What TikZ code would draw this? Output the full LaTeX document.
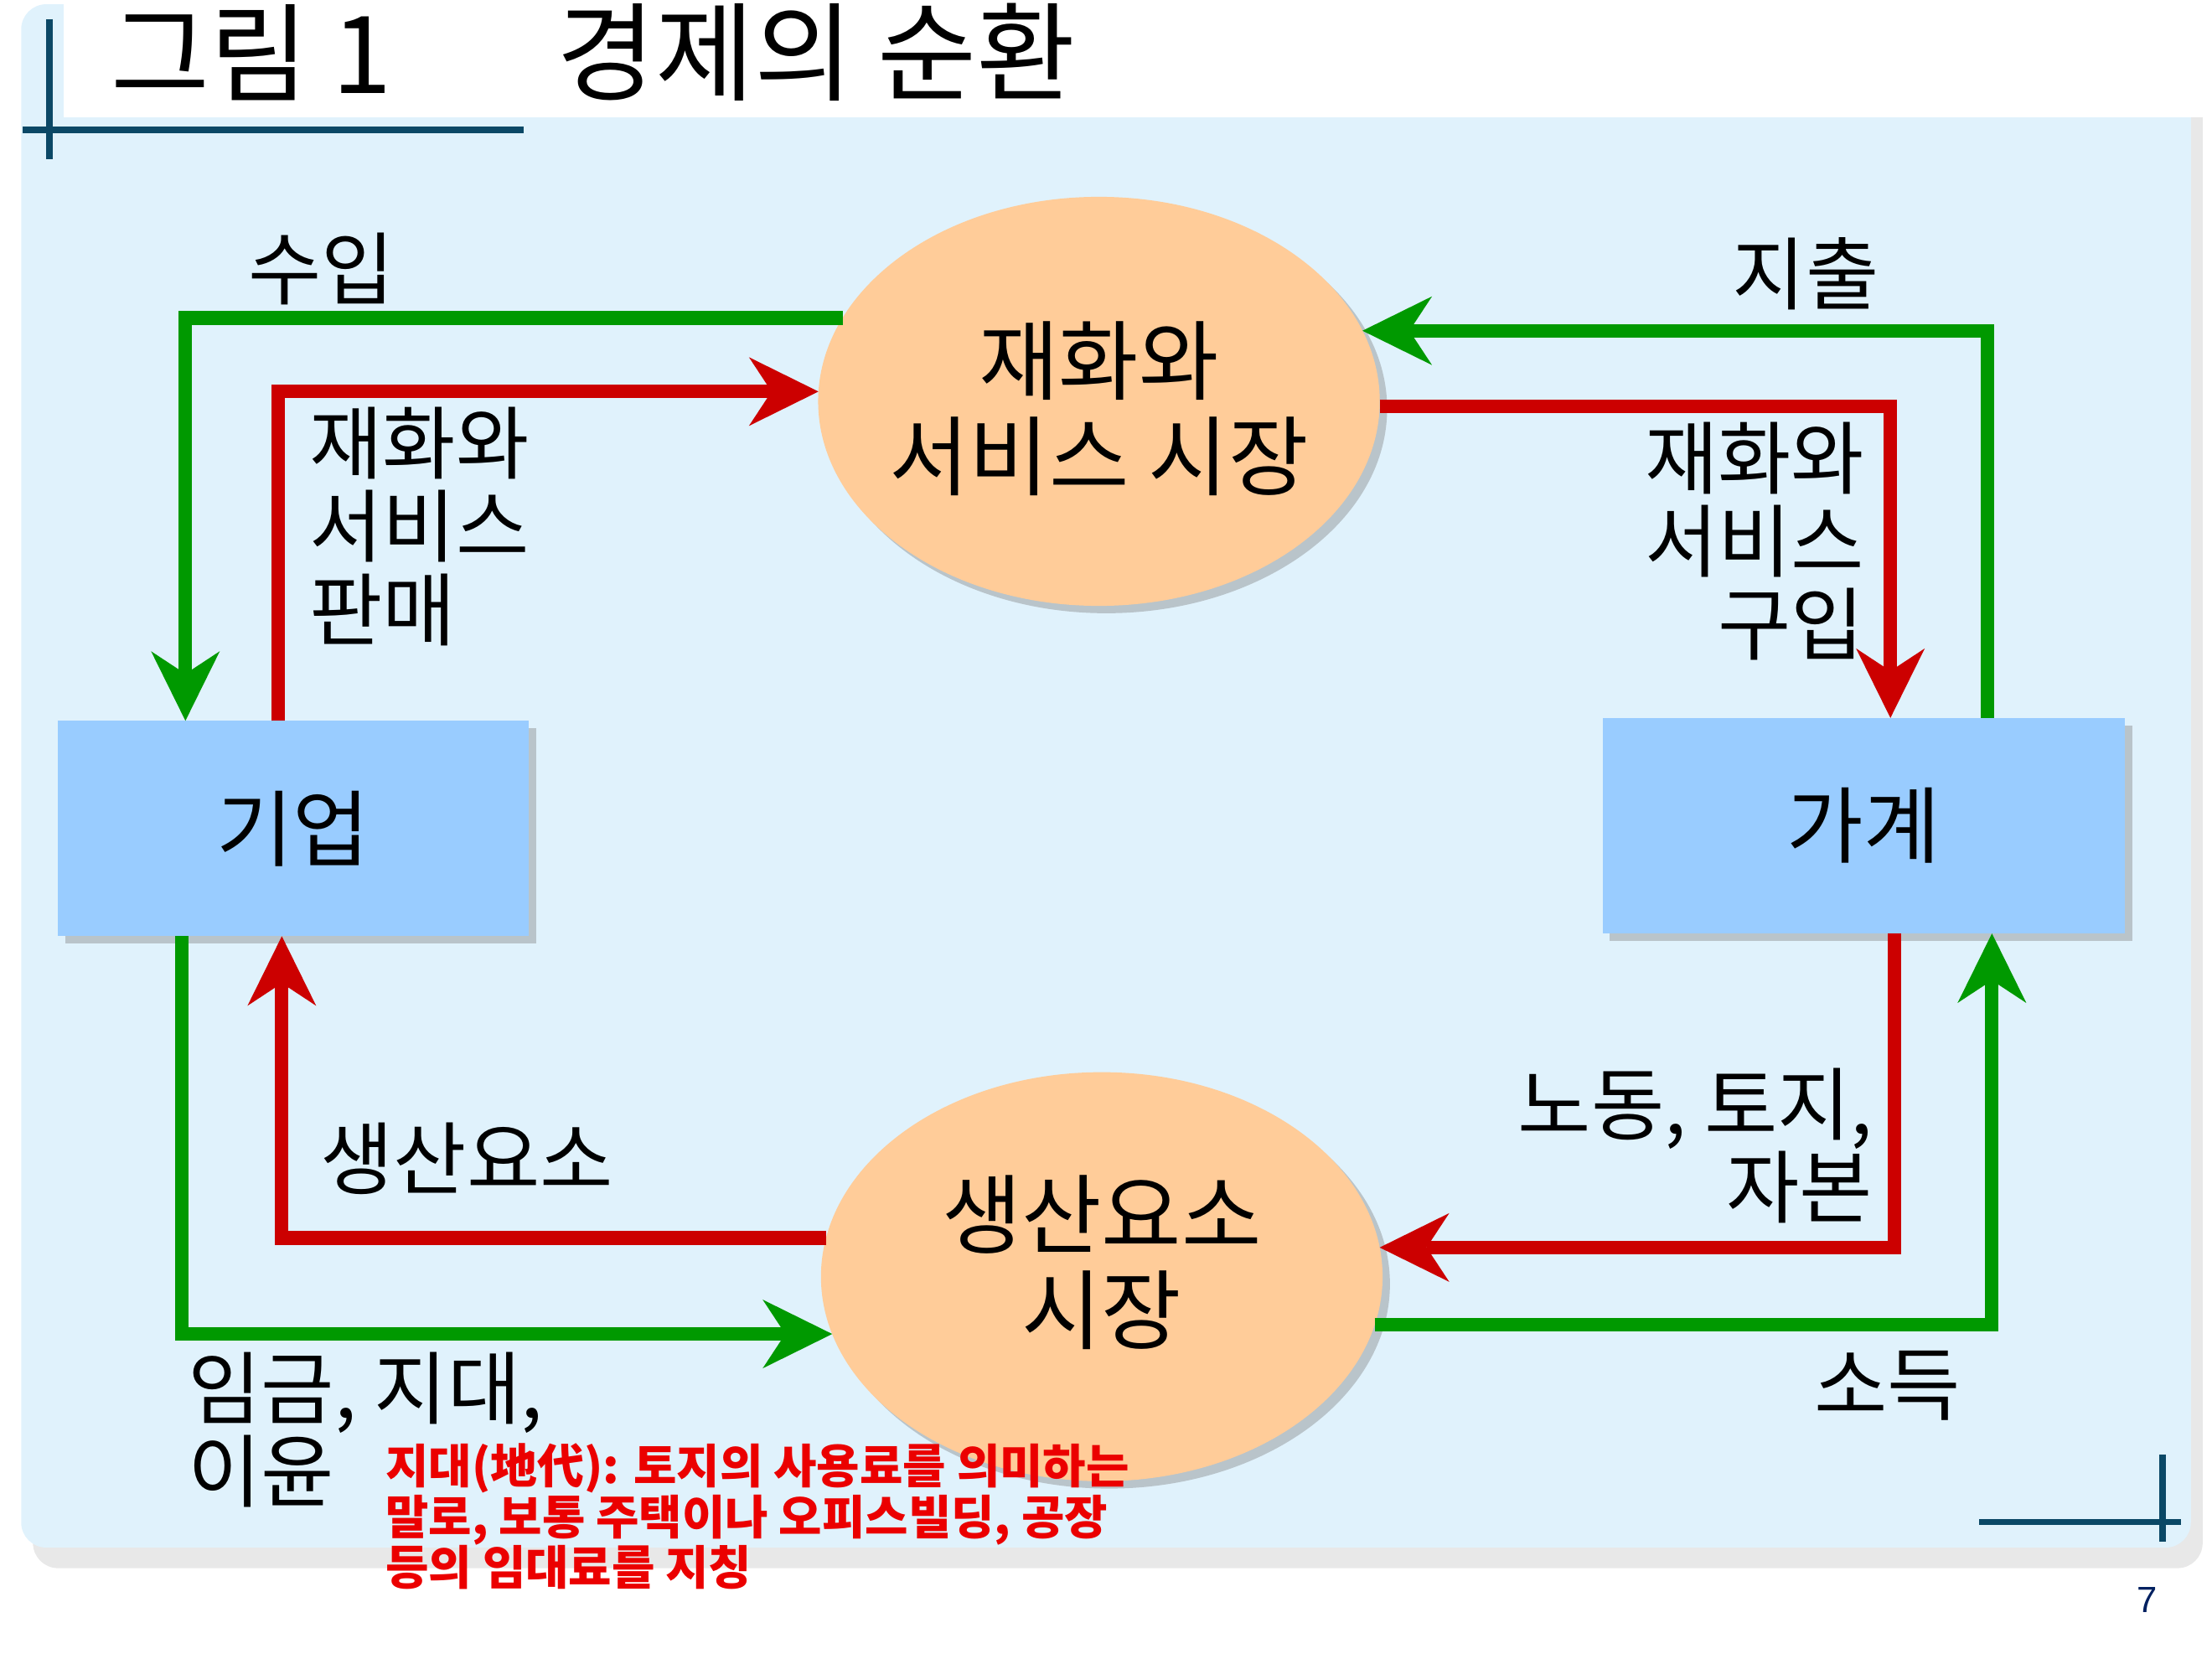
\documentclass[tikz,border=0pt]{standalone}
\usepackage{fontspec}
\setmainfont{Noto Sans CJK KR}
\newfontfamily\numfont{Liberation Sans}
\usetikzlibrary{arrows.meta,shapes.geometric,shadows}

\definecolor{bgblue}{RGB}{224,242,252}
\definecolor{boxblue}{RGB}{153,204,255}
\definecolor{peach}{RGB}{255,204,153}
\definecolor{flowgreen}{RGB}{0,153,0}
\definecolor{flowred}{RGB}{204,0,0}
\definecolor{rulenavy}{RGB}{11,72,102}
\definecolor{notered}{RGB}{235,0,0}
\definecolor{pagenavy}{RGB}{0,32,96}

\begin{document}
\begin{tikzpicture}
        [
            x = 0.016837cm, y = -0.016837cm,
            market/.style={ellipse, fill=peach, minimum width=6.70cm, minimum height=4.88cm,
                inner sep=0pt, outer sep=0pt,
                drop shadow={shadow xshift=2.5pt, shadow yshift=-2.5pt, opacity=.4}},
            markettext/.style={inner sep=0pt, align=center, font=\fontsize{29.5}{32.5}\selectfont},
            sector/.style={rectangle, fill=boxblue, minimum height=2.57cm, inner sep=0pt, outer sep=0pt,
                font=\fontsize{28.3}{32.5}\selectfont,
                drop shadow={shadow xshift=2.5pt, shadow yshift=-2.5pt, opacity=.4}},
            flowlabel/.style={inner sep=0pt, font=\fontsize{27}{28.2}\selectfont},
            flow/.style={line width=4.6pt, -{Stealth[length=.83cm, width=.82cm, inset=.27cm, line width=0pt]}},
            gflow/.style={flow, draw=flowgreen},
            rflow/.style={flow, draw=flowred},
            figtitle/.style={inner sep=0pt, anchor=west, font=\fontsize{36.5}{40}\selectfont},
            rule/.style={draw=rulenavy, line width=2.1pt},
            note/.style={inner sep=0pt, anchor=north west, align=left, text=notered,
                font=\fontsize{15.9}{17.2}\selectfont\bfseries},
        ]
        \useasboundingbox (0,0) rectangle (1568,1176);
        \fill[bgblue, rounded corners=.3cm,
            drop shadow={shadow xshift=4pt, shadow yshift=-7pt, opacity=1, fill=black!9}]
            (15,3) rectangle (1553,1097);
        \fill[white] (45,0) rectangle (1568,83);

        \draw[rule] (35,13.5) -- (35,113);
        \draw[rule] (16,92) -- (371,92);
        \draw[rule] (1533,1031) -- (1533,1093);
        \draw[rule] (1403,1079) -- (1546,1079);

        \node[figtitle] (fignum) at (78,37) {그림 1};
        \node[figtitle] (figname) at (394,37) {경제의 순환};

        \node[market, label={[markettext, yshift=-2.4pt]center:{재화와\\서비스 시장}}] (gsm) at (779,284.5) {};
        \node[market, label={[markettext, yshift=4.8pt]center:{생산요소\\시장}}] (fsm) at (781,905) {};
        \node[sector, minimum width=5.62cm] (firm) at (207.8,587.3) {기업};
        \node[sector, minimum width=6.23cm] (house) at (1321,585.3) {가계};

        \draw[gflow] (gsm.162.5) -| (firm.135.4);
        \draw[rflow] (firm.98.8) |- (gsm.178.3);
        \draw[gflow] (house.41.7) |- (gsm.15);
        \draw[rflow] (gsm.-1.2) -| (house.76.7);
        \draw[rflow] (fsm.172.7) -| (firm.-96.6);
        \draw[gflow] (firm.224) |- (fsm.192.3);
        \draw[rflow] (house.-74.3) |- (fsm.6.2);
        \draw[gflow] (fsm.-10.7) -| (house.-40.9);

        \node[flowlabel] (revlbl) at (228,190.5) {수입};
        \node[flowlabel] (spendlbl) at (1280,194) {지출};
        \node[flowlabel, anchor=north west, align=left] (selllbl) at (219,288.4) {재화와\\서비스\\판매};
        \node[flowlabel, anchor=north east, align=right] (buylbl) at (1322,299) {재화와\\서비스\\구입};
        \node[flowlabel] (factlbl) at (331,821.5) {생산요소};
        \node[flowlabel, anchor=north east, align=right] (inputlbl) at (1328,756.6) {노동, 토지,\\자본};
        \node[flowlabel, anchor=north west, align=left] (paylbl) at (133,958) {임금, 지대,\\이윤};
        \node[flowlabel] (incomelbl) at (1338,982) {소득};

        \node[note] (rentnote) at (273,1023) {지대(地代): 토지의 사용료를 의미하는\\말로, 보통 주택이나 오피스빌딩, 공장\\등의 임대료를 지칭};
        \node[inner sep=0pt, text=pagenavy, font=\numfont\fontsize{12.4}{14}\selectfont] (pagenum) at (1522,1134) {7};
    \end{tikzpicture}
\end{document}
